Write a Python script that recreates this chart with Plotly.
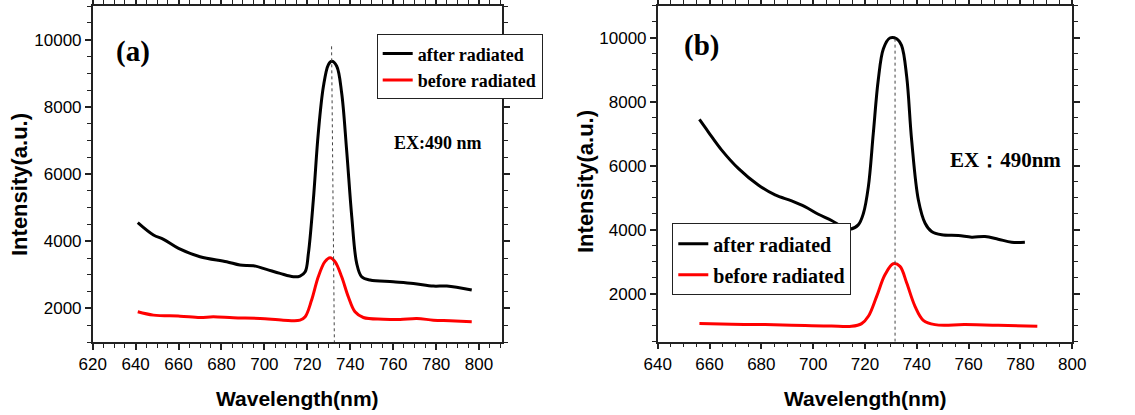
import plotly.graph_objects as go

W, H = 1135, 415

# ---- Panel (a) data ----
a_after_x = [641, 648.3, 653, 660, 670, 682.4, 688.6, 694.9, 701, 707.3, 713.5, 716.6, 719, 720.5,
             722.8, 725.1, 727.5, 729.8, 731.4, 733.7, 736, 738.3, 740.7, 743, 745.3, 749.2, 760,
             769.4, 778.7, 785, 796.6]
a_after_y = [4553, 4185, 4056, 3787, 3539, 3390, 3290, 3270, 3160, 3042, 2942, 2962, 3090, 3638,
             5229, 7217, 8608, 9254, 9354, 9205, 8410, 6720, 4732, 3340, 2942, 2843, 2793,
             2744, 2664, 2664, 2545]
a_before_x = [641, 648.3, 660.7, 670, 676.2, 685.5, 698, 708.8, 716.6, 719, 722, 725.1, 728.2,
              730.6, 732.9, 736, 739.1, 742.2, 746.1, 755.4, 763.2, 771, 778.7, 786.5, 796.6]
a_before_y = [1899, 1800, 1770, 1730, 1750, 1720, 1700, 1650, 1650, 1750, 2247, 2942, 3390,
              3509, 3390, 2942, 2346, 1899, 1730, 1680, 1670, 1700, 1650, 1630, 1600]
a_peak_x = [731.3, 732.6]
a_peak_y = [9800, 1000]

# ---- Panel (b) data ----
b_after_x = [656.1, 659.5, 664.7, 671.1, 678.8, 685.3, 691.7, 696.8, 702, 707.1, 711, 714.2, 717.4,
             719.4, 721.3, 723.2, 725.1, 727.1, 729.6, 732.2, 734.1, 736.1, 738, 740.6, 743.2,
             745.7, 749.6, 756, 761.2, 766.3, 771.4, 776.6, 781.7]
b_after_y = [7444, 7060, 6488, 5917, 5397, 5086, 4899, 4722, 4483, 4286, 4099, 4016, 4151,
             4514, 5345, 7008, 8670, 9657, 9990, 9969, 9761, 8774, 6800, 4930, 4203,
             3943, 3839, 3818, 3766, 3787, 3704, 3610, 3610]
b_before_x = [656.1, 668.6, 681.4, 691.7, 699.4, 707.1, 714.8, 718.7, 721.3, 724.5, 727.7, 730.9,
              733.5, 736.1, 739.3, 742.5, 747, 758.6, 771.4, 786.5]
b_before_y = [1065, 1044, 1034, 1013, 1000, 990, 980, 1065, 1294, 1917, 2592, 2935,
              2852, 2332, 1605, 1169, 1034, 1034, 1013, 980]
b_peak_x = [731.6, 731.6]
b_peak_y = [9970, 500]

SERIES = ["after radiated", "before radiated"]
SANS = "Liberation Sans, Arial, sans-serif"
SERIF = "Liberation Serif, Times New Roman, serif"

fig = go.Figure()

def px_x(p):
    return p / W

def px_y(p):
    return 1 - p / H

# Panel (a)
fig.add_trace(go.Scatter(x=a_after_x, y=a_after_y, mode="lines", name=SERIES[0],
                         line=dict(color="black", width=3, shape="spline"),
                         xaxis="x", yaxis="y", legend="legend", legendgroup="a1"))
fig.add_trace(go.Scatter(x=a_before_x, y=a_before_y, mode="lines", name=SERIES[1],
                         line=dict(color="#ff0000", width=3, shape="spline"),
                         xaxis="x", yaxis="y", legend="legend", legendgroup="a2"))
fig.add_trace(go.Scatter(x=a_peak_x, y=a_peak_y, mode="lines", showlegend=False,
                         line=dict(color="#444", width=1, dash="dot"),
                         xaxis="x", yaxis="y"))

# Panel (b)
fig.add_trace(go.Scatter(x=b_after_x, y=b_after_y, mode="lines", name=SERIES[0],
                         line=dict(color="black", width=3, shape="spline"),
                         xaxis="x2", yaxis="y2", legend="legend2", legendgroup="b1"))
fig.add_trace(go.Scatter(x=b_before_x, y=b_before_y, mode="lines", name=SERIES[1],
                         line=dict(color="#ff0000", width=3, shape="spline"),
                         xaxis="x2", yaxis="y2", legend="legend2", legendgroup="b2"))
fig.add_trace(go.Scatter(x=b_peak_x, y=b_peak_y, mode="lines", showlegend=False,
                         line=dict(color="#444", width=1, dash="dot"),
                         xaxis="x2", yaxis="y2"))

axis_common = dict(showline=True, linecolor="#222", linewidth=1.5, mirror="ticks",
                   ticks="outside", ticklen=6, tickwidth=1.5, tickcolor="#222",
                   showgrid=False, zeroline=False, automargin=False, tickformat="d",
                   tickfont=dict(family=SANS, size=17, color="black"),
                   minor=dict(ticks="outside", ticklen=4, tickwidth=1, tickcolor="#222"))

fig.update_layout(
    template="none",
    width=W, height=H, autosize=False,
    margin=dict(l=0, r=0, t=0, b=0, pad=0),
    paper_bgcolor="white", plot_bgcolor="white",
    xaxis=dict(domain=[px_x(92.7), px_x(502)], range=[620, 810.7], tick0=620, dtick=20,
               anchor="y", **axis_common),
    yaxis=dict(domain=[px_y(342), px_y(6)], range=[1000, 11000], tick0=2000, dtick=2000,
               anchor="x", **axis_common),
    xaxis2=dict(domain=[px_x(657.7), px_x(1072.3)], range=[640, 800], tick0=640, dtick=20,
                anchor="y2", **axis_common),
    yaxis2=dict(domain=[px_y(341.7), px_y(5.7)], range=[500, 11000], tick0=2000, dtick=2000,
                anchor="x2", **axis_common),
    legend=dict(x=px_x(376.7), y=px_y(34.3), xanchor="left", yanchor="top",
                bordercolor="#222", borderwidth=1, bgcolor="white",
                font=dict(family=SERIF, size=18, color="black", weight="bold"),
                tracegroupgap=0, itemwidth=30),
    legend2=dict(x=px_x(672.3), y=px_y(223.3), xanchor="left", yanchor="top",
                 bordercolor="#222", borderwidth=1, bgcolor="white",
                 font=dict(family=SERIF, size=20, color="black", weight="bold"),
                 tracegroupgap=2, itemwidth=30),
    showlegend=True,
)

def ann(text, x, y, font, angle=0):
    fig.add_annotation(text=text, x=px_x(x), y=px_y(y), xref="paper", yref="paper",
                       xanchor="center", yanchor="middle", showarrow=False,
                       textangle=angle, font=font)

ylab_font = dict(family=SANS, size=22, color="black", weight="bold")
xlab_font = dict(family=SANS, size=21, color="black", weight="bold")
ann("Intensity(a.u.)", 19, 185, ylab_font, -90)
ann("Intensity(a.u.)", 585, 182, ylab_font, -90)
ann("Wavelength(nm)", 297, 398, xlab_font)
ann("Wavelength(nm)", 865, 398, xlab_font)
ann("(a)", 132.5, 51.7, dict(family=SERIF, size=29, color="black", weight="bold"))
ann("(b)", 701.7, 45.8, dict(family=SERIF, size=29, color="black", weight="bold"))
ann("EX:490 nm", 437.5, 142.7, dict(family=SERIF, size=18, color="black", weight="bold"))
ann("EX：490nm", 1005.8, 160, dict(family=SERIF, size=21, color="black", weight="bold"))

fig.write_html("out.html", config={"displayModeBar": False},
               post_script="document.body.style.margin='0px';document.body.style.padding='0px';")
